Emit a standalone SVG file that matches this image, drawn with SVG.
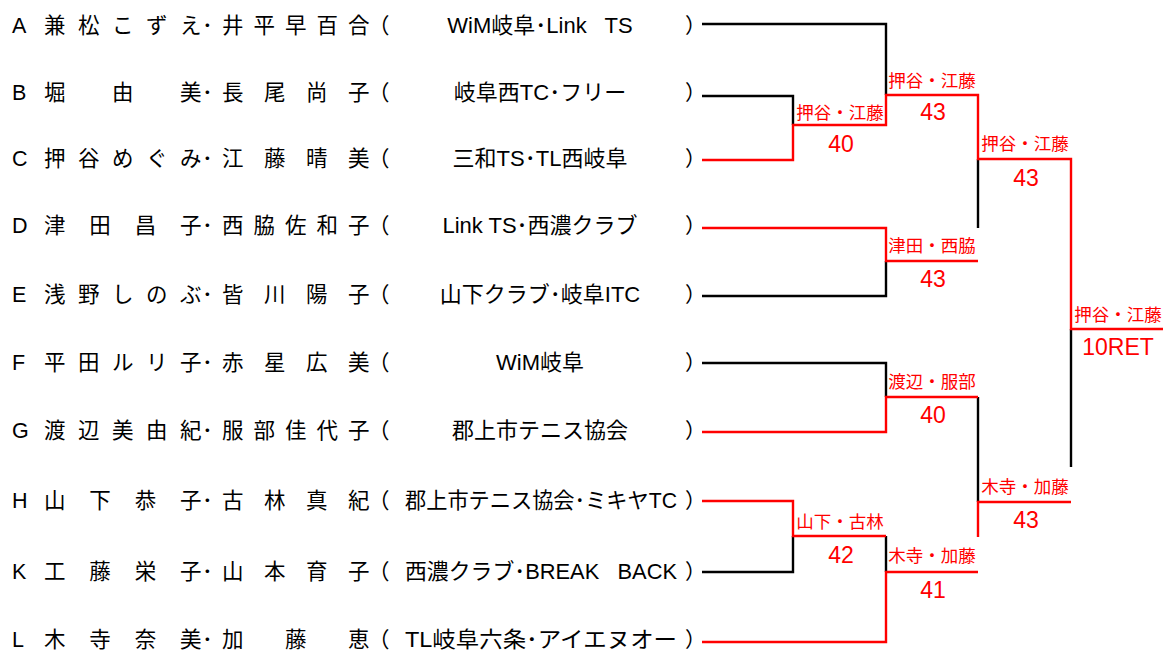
<svg xmlns="http://www.w3.org/2000/svg" width="1163" height="651" viewBox="0 0 1163 651">
<style>
  text { font-family: "Liberation Sans", "Noto Sans CJK JP", sans-serif; fill: #000; }
  .nm { font-size: 21.5px; }
  .cl { font-size: 22px; text-anchor: middle; white-space: pre; }
  .pr { font-size: 21px; }
  .lb { font-size: 17.5px; fill: #ff0000; text-anchor: middle; }
  .sc { font-size: 23px; fill: #ff0000; text-anchor: middle; }
  .bk { fill: none; stroke: #000; stroke-width: 2.4; }
  .rd { fill: none; stroke: #ff0000; stroke-width: 2.4; }
</style>
<rect width="1163" height="651" fill="#fff"/>

<g id="row-A">
  <text class="nm" x="12 44 78 112 146 180 202 222 253.5 285 316.5 348 368" y="33">A兼松こずえ･井平早百合（</text>
  <text class="cl" x="540" y="33">WiM岐阜･Link   TS</text>
  <text class="pr" x="685" y="33">）</text>
</g>
<g id="row-B">
  <text class="nm" x="12 44 112 180 202 222 264 306 348 368" y="100">B堀由美･長尾尚子（</text>
  <text class="cl" x="540" y="100">岐阜西TC･フリー</text>
  <text class="pr" x="685" y="100">）</text>
</g>
<g id="row-C">
  <text class="nm" x="12 44 78 112 146 180 202 222 264 306 348 368" y="166">C押谷めぐみ･江藤晴美（</text>
  <text class="cl" x="540" y="166">三和TS･TL西岐阜</text>
  <text class="pr" x="685" y="166">）</text>
</g>
<g id="row-D">
  <text class="nm" x="12 44 89.3 134.7 180 202 222 253.5 285 316.5 348 368" y="233">D津田昌子･西脇佐和子（</text>
  <text class="cl" x="540" y="233">Link TS･西濃クラブ</text>
  <text class="pr" x="685" y="233">）</text>
</g>
<g id="row-E">
  <text class="nm" x="12 44 78 112 146 180 202 222 264 306 348 368" y="302">E浅野しのぶ･皆川陽子（</text>
  <text class="cl" x="540" y="302">山下クラブ･岐阜ITC</text>
  <text class="pr" x="685" y="302">）</text>
</g>
<g id="row-F">
  <text class="nm" x="12 44 78 112 146 180 202 222 264 306 348 368" y="370">F平田ルリ子･赤星広美（</text>
  <text class="cl" x="540" y="370">WiM岐阜</text>
  <text class="pr" x="685" y="370">）</text>
</g>
<g id="row-G">
  <text class="nm" x="12 44 78 112 146 180 202 222 253.5 285 316.5 348 368" y="438">G渡辺美由紀･服部佳代子（</text>
  <text class="cl" x="540" y="438">郡上市テニス協会</text>
  <text class="pr" x="685" y="438">）</text>
</g>
<g id="row-H">
  <text class="nm" x="12 44 89.3 134.7 180 202 222 264 306 348 368" y="508">H山下恭子･古林真紀（</text>
  <text class="cl" x="541" y="508" textLength="272" lengthAdjust="spacingAndGlyphs">郡上市テニス協会･ミキヤTC</text>
  <text class="pr" x="685" y="508">）</text>
</g>
<g id="row-K">
  <text class="nm" x="12 44 89.3 134.7 180 202 222 264 306 348 368" y="579">K工藤栄子･山本育子（</text>
  <text class="cl" x="541" y="579" textLength="272" lengthAdjust="spacingAndGlyphs">西濃クラブ･BREAK   BACK</text>
  <text class="pr" x="685" y="579">）</text>
</g>
<g id="row-L">
  <text class="nm" x="12 44 89.3 134.7 180 202 222 285 348 368" y="647">L木寺奈美･加藤恵（</text>
  <text class="cl" x="541" y="647" textLength="272" lengthAdjust="spacingAndGlyphs">TL岐阜六条･アイエヌオー</text>
  <text class="pr" x="685" y="647">）</text>
</g>

<g id="connectors">
  <path class="bk" d="M702 24H886V95"/>
  <path class="bk" d="M702 96H793V125"/>
  <path class="bk" d="M702 296H886V261"/>
  <path class="bk" d="M702 363H886V397"/>
  <path class="bk" d="M702 572H793V536"/>
  <path class="bk" d="M978 159V228"/>
  <path class="bk" d="M978 397V502"/>
  <path class="bk" d="M886 536V572"/>
  <path class="bk" d="M1071 329V467"/>
  <path class="rd" d="M702 160H793V125H886V95H978V159H1071V329H1163"/>
  <path class="rd" d="M702 228H886V261H978"/>
  <path class="rd" d="M702 432H886V397H978"/>
  <path class="rd" d="M702 501H793V536H886"/>
  <path class="rd" d="M702 642H886V572H978"/>
  <path class="rd" d="M978 537V502H1071"/>
</g>

<g id="result-r1-bc">
  <text class="lb" x="840" y="119">押谷・江藤</text>
  <text class="sc" x="841" y="152">40</text>
</g>
<g id="result-r2-a">
  <text class="lb" x="932" y="87">押谷・江藤</text>
  <text class="sc" x="933" y="120">43</text>
</g>
<g id="result-r2-de">
  <text class="lb" x="932" y="252">津田・西脇</text>
  <text class="sc" x="933" y="287">43</text>
</g>
<g id="result-r2-fg">
  <text class="lb" x="932" y="388">渡辺・服部</text>
  <text class="sc" x="933" y="423">40</text>
</g>
<g id="result-r1-hk">
  <text class="lb" x="840" y="528">山下・古林</text>
  <text class="sc" x="841" y="563">42</text>
</g>
<g id="result-r2-l">
  <text class="lb" x="932" y="562">木寺・加藤</text>
  <text class="sc" x="933" y="598">41</text>
</g>
<g id="result-sf-top">
  <text class="lb" x="1025" y="150">押谷・江藤</text>
  <text class="sc" x="1026" y="186">43</text>
</g>
<g id="result-sf-bottom">
  <text class="lb" x="1025" y="493">木寺・加藤</text>
  <text class="sc" x="1026" y="528">43</text>
</g>
<g id="result-final">
  <text class="lb" x="1118" y="321">押谷・江藤</text>
  <text class="sc" x="1118" y="355">10RET</text>
</g>
</svg>
